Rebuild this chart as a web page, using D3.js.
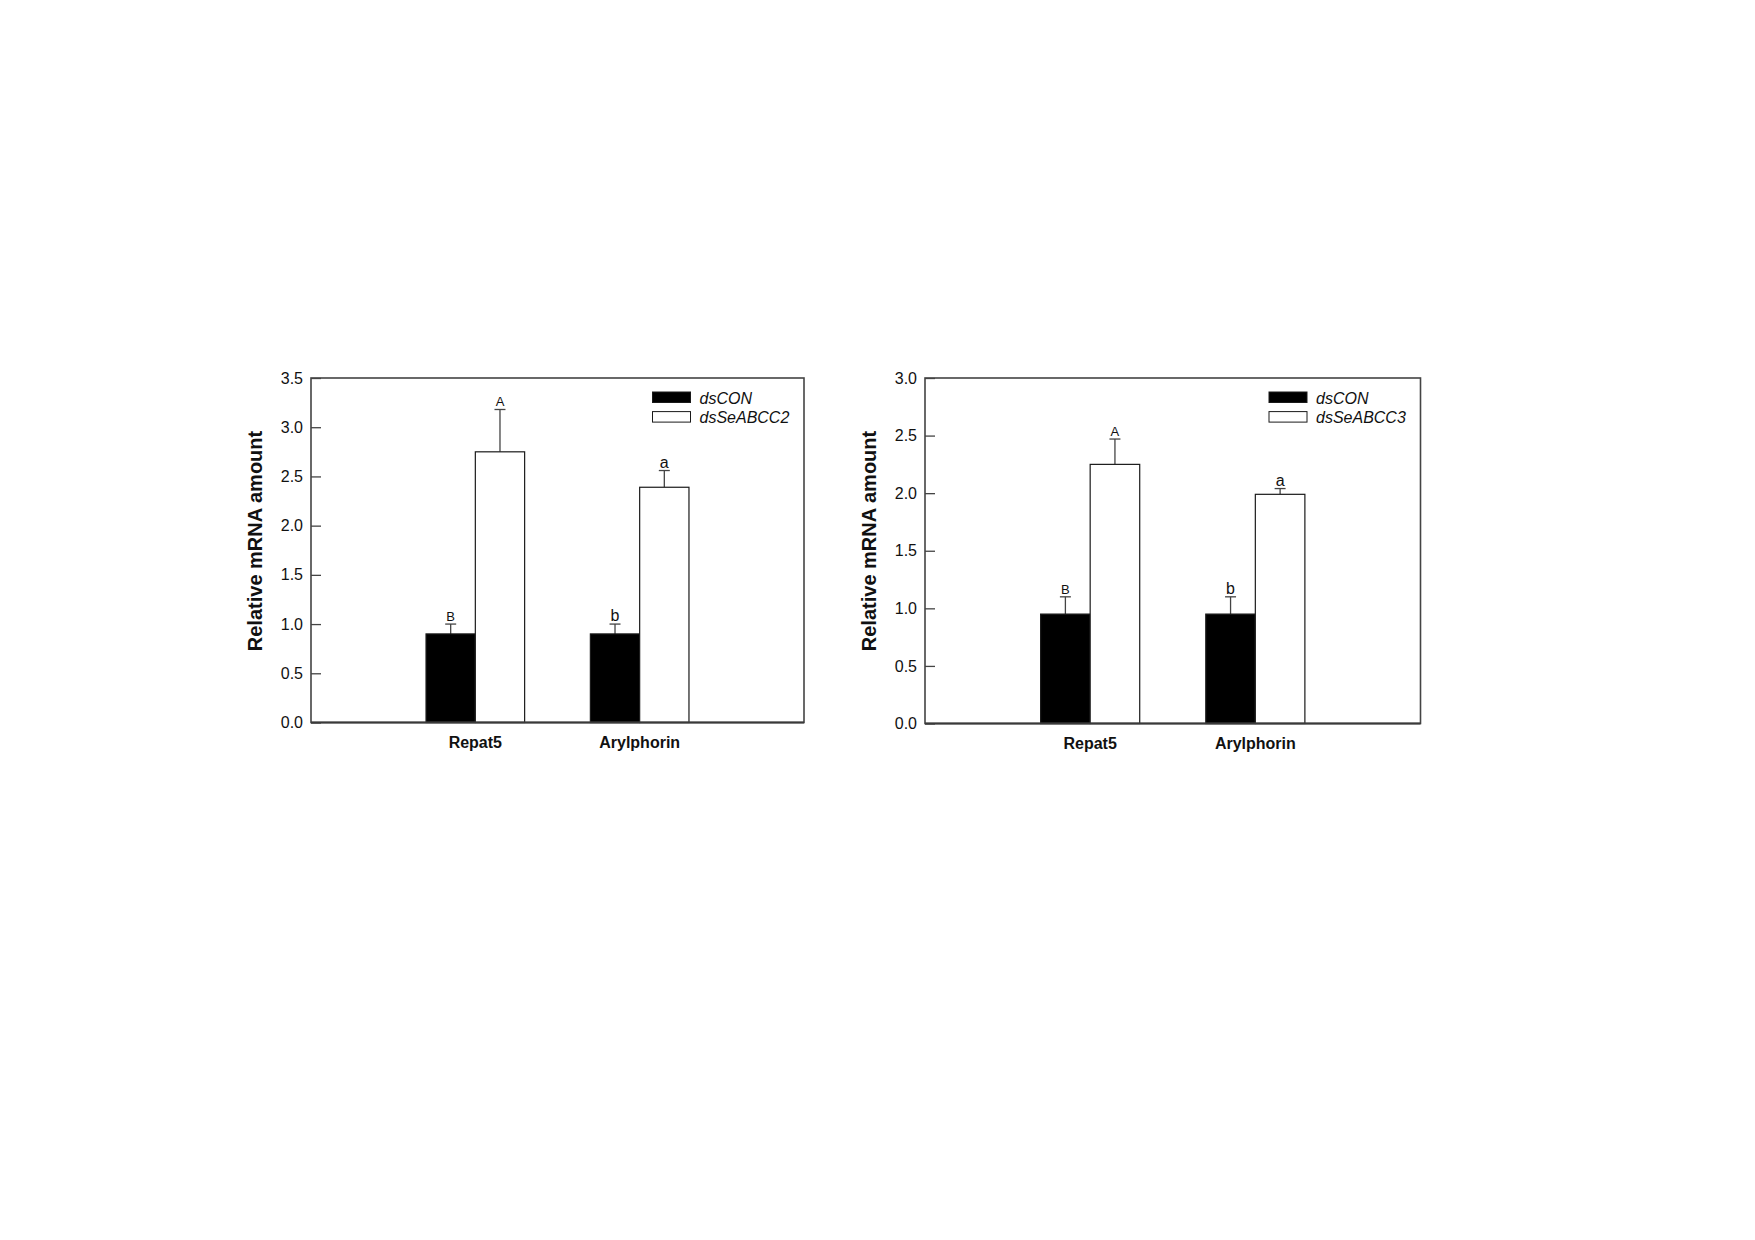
<!DOCTYPE html>
<html>
<head>
<meta charset="utf-8">
<script src="https://cdn.jsdelivr.net/npm/d3@7"></script>
<style>
  html, body { margin: 0; padding: 0; background: #fff; }
  svg { display: block; }
  text { font-family: Arial, "Liberation Sans", sans-serif; }
</style>
</head>
<body>
<svg id="chart" width="1755" height="1240"></svg>
<script>
// ---- data ----
const categories = ["Repat5", "Arylphorin"];

const seriesNames1 = ["dsCON", "dsSeABCC2"];
const ctrlValues1 = [0.90, 0.90];
const ctrlErrors1 = [0.10, 0.10];
const ctrlLetters1 = ["B", "b"];
const treatValues1 = [2.75, 2.39];
const treatErrors1 = [0.43, 0.17];
const treatLetters1 = ["A", "a"];
const yTicks1 = [0, 0.5, 1.0, 1.5, 2.0, 2.5, 3.0, 3.5];

const seriesNames2 = ["dsCON", "dsSeABCC3"];
const ctrlValues2 = [0.95, 0.95];
const ctrlErrors2 = [0.15, 0.15];
const ctrlLetters2 = ["B", "b"];
const treatValues2 = [2.25, 1.99];
const treatErrors2 = [0.22, 0.05];
const treatLetters2 = ["A", "a"];
const yTicks2 = [0, 0.5, 1.0, 1.5, 2.0, 2.5, 3.0];

const yTitle = "Relative mRNA amount";

const svg = d3.select("#chart");

function drawPanel(opt) {
  const { left, right, top, bottom, yMax, yTicks, names, ctrl, treat } = opt;
  const g = svg.append("g");

  const x = d3.scaleBand().domain(categories).range([left, right])
    .paddingInner(0.4).paddingOuter(0.7);
  const xs = d3.scaleBand().domain(names).range([0, x.bandwidth()]).padding(0);
  const y = d3.scaleLinear().domain([0, yMax]).range([bottom, top]);

  const fills = { [names[0]]: "#000", [names[1]]: "#fff" };

  const rows = [];
  categories.forEach((c, i) => {
    rows.push({ cat: c, s: names[0], v: ctrl.values[i], e: ctrl.errors[i], l: ctrl.letters[i] });
    rows.push({ cat: c, s: names[1], v: treat.values[i], e: treat.errors[i], l: treat.letters[i] });
  });

  // error bars (upper only)
  const eb = g.append("g").attr("stroke", "#444").attr("stroke-width", 1.3);
  rows.forEach(d => {
    const cx = x(d.cat) + xs(d.s) + xs.bandwidth() / 2;
    eb.append("line").attr("x1", cx).attr("x2", cx)
      .attr("y1", y(d.v)).attr("y2", y(d.v + d.e));
    eb.append("line").attr("x1", cx - 5.5).attr("x2", cx + 5.5)
      .attr("y1", y(d.v + d.e)).attr("y2", y(d.v + d.e));
  });

  // bars
  g.append("g").selectAll("rect").data(rows).join("rect")
    .attr("x", d => x(d.cat) + xs(d.s))
    .attr("y", d => y(d.v))
    .attr("width", xs.bandwidth())
    .attr("height", d => y(0) - y(d.v))
    .attr("fill", d => fills[d.s])
    .attr("stroke", "#1a1a1a")
    .attr("stroke-width", 1.2);

  // significance letters
  g.append("g").selectAll("text").data(rows).join("text")
    .attr("x", d => x(d.cat) + xs(d.s) + xs.bandwidth() / 2)
    .attr("y", d => y(d.v + d.e) - 3)
    .attr("text-anchor", "middle")
    .attr("font-size", d => (d.l === d.l.toUpperCase() ? 13 : 16))
    .attr("fill", "#111")
    .text(d => d.l);

  // y axis ticks (inward)
  const yAxis = d3.axisLeft(y).tickValues(yTicks)
    .tickFormat(d3.format(".1f")).tickSizeInner(-10).tickSizeOuter(0).tickPadding(8);
  const ya = g.append("g").attr("transform", `translate(${left},0)`).call(yAxis);
  ya.select(".domain").remove();
  ya.selectAll(".tick line").attr("stroke", "#444").attr("stroke-width", 1.3);
  ya.selectAll(".tick text").attr("font-size", 16).attr("fill", "#111")
    .attr("font-family", "Arial, 'Liberation Sans', sans-serif");

  // frame
  g.append("rect").attr("x", left).attr("y", top)
    .attr("width", right - left).attr("height", bottom - top)
    .attr("fill", "none").attr("stroke", "#444").attr("stroke-width", 1.6);
  g.append("line").attr("x1", left).attr("x2", right).attr("y1", bottom).attr("y2", bottom)
    .attr("stroke", "#3a3a3a").attr("stroke-width", 2.2);

  // x labels
  g.append("g").selectAll("text").data(categories).join("text")
    .attr("x", d => x(d) + x.bandwidth() / 2)
    .attr("y", bottom + 25)
    .attr("text-anchor", "middle")
    .attr("font-size", 16).attr("font-weight", "bold").attr("fill", "#111")
    .text(d => d);

  // y title
  g.append("text")
    .attr("transform", `translate(${left - 49},541) rotate(-90)`)
    .attr("text-anchor", "middle")
    .attr("font-size", 20).attr("font-weight", "bold").attr("fill", "#111")
    .text(yTitle);

  // legend
  const lx = right - 151.5;
  names.forEach((n, i) => {
    const ry = top + 14 + i * 19.6;
    g.append("rect").attr("x", lx).attr("y", ry).attr("width", 38).attr("height", 10.5)
      .attr("fill", fills[n]).attr("stroke", "#1a1a1a").attr("stroke-width", 1);
    g.append("text").attr("x", lx + 47).attr("y", ry + 11.5)
      .attr("font-size", 16).attr("font-style", "italic").attr("fill", "#111")
      .text(n);
  });
}

drawPanel({
  left: 311, right: 804, top: 378, bottom: 722.5, yMax: 3.5, yTicks: yTicks1,
  names: seriesNames1,
  ctrl: { values: ctrlValues1, errors: ctrlErrors1, letters: ctrlLetters1 },
  treat: { values: treatValues1, errors: treatErrors1, letters: treatLetters1 }
});

drawPanel({
  left: 925, right: 1420.5, top: 378, bottom: 723.5, yMax: 3.0, yTicks: yTicks2,
  names: seriesNames2,
  ctrl: { values: ctrlValues2, errors: ctrlErrors2, letters: ctrlLetters2 },
  treat: { values: treatValues2, errors: treatErrors2, letters: treatLetters2 }
});
</script>
</body>
</html>
